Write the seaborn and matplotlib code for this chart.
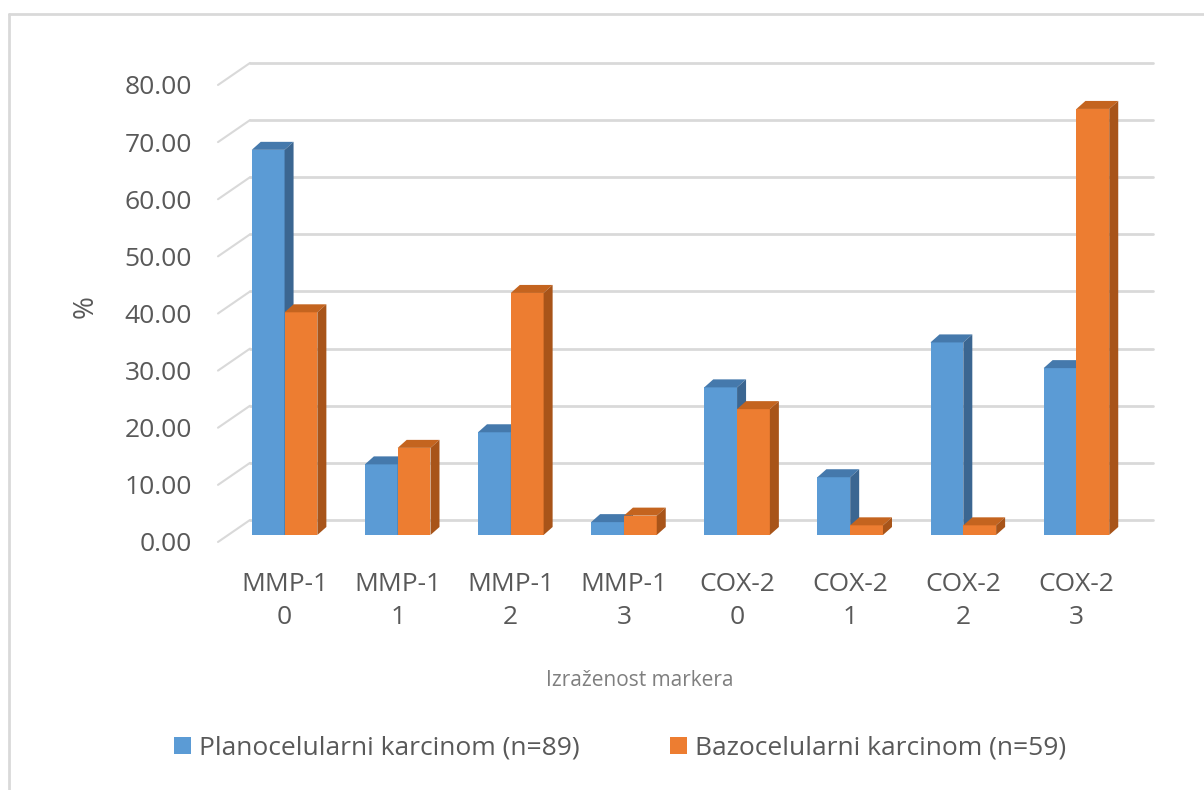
import matplotlib
matplotlib.use('Agg')
import matplotlib.pyplot as plt
import matplotlib.transforms as mtransforms
from matplotlib.patches import Polygon
import pandas as pd
import seaborn as sns

categories = ['MMP-1\n0', 'MMP-1\n1', 'MMP-1\n2', 'MMP-1\n3',
              'COX-2\n0', 'COX-2\n1', 'COX-2\n2', 'COX-2\n3']
series = ['Planocelularni karcinom (n=89)', 'Bazocelularni karcinom (n=59)']
plano = [67.42, 12.36, 17.98, 2.25, 25.84, 10.11, 33.71, 29.21]
bazo = [38.98, 15.25, 42.37, 3.39, 22.03, 1.69, 1.69, 74.58]
yticks = [0, 10, 20, 30, 40, 50, 60, 70, 80]

front_col = {series[0]: '#5B9BD5', series[1]: '#ED7D31'}
top_col = {series[0]: '#4579AC', series[1]: '#C4641F'}
side_col = {series[0]: '#3B6691', series[1]: '#A85419'}

df = pd.DataFrame({
    'marker': categories * 2,
    'grupa': [series[0]] * len(categories) + [series[1]] * len(categories),
    'pct': plano + bazo,
})

sns.set_theme(style='white')
plt.rcParams['font.family'] = ['Open Sans', 'DejaVu Sans']
txt = '#595959'

fig = plt.figure(figsize=(12.04, 7.90), dpi=100)
ax = fig.add_axes([228 / 1204, 0.3228, 905 / 1204, 0.5785])

sns.barplot(data=df, x='marker', y='pct', hue='grupa', order=categories,
            hue_order=series, palette=front_col, saturation=1, width=0.58,
            gap=0, ax=ax, linewidth=0)

ax.set_xlim(-0.5, 7.5)
ax.set_ylim(0, 80)

# pseudo 3D depth (px -> data units)
ppx = 905 / 8.0
ppy = 457 / 80.0
dx, dy = 9 / ppx, 8 / ppy

for k, (cont, name) in enumerate(zip(ax.containers, series)):
    for p in cont.patches:
        p.set_zorder(3 + k)
        x0 = p.get_x()
        x1 = x0 + p.get_width()
        h = p.get_height()
        top = Polygon([(x0, h), (x0 + dx, h + dy), (x1 + dx, h + dy), (x1, h)],
                      closed=True, fc=top_col[name], ec='none', zorder=3.1 + k,
                      clip_on=False)
        side = Polygon([(x1, 0), (x1 + dx, dy), (x1 + dx, h + dy), (x1, h)],
                       closed=True, fc=side_col[name], ec='none', zorder=3.1 + k,
                       clip_on=False)
        ax.add_patch(top)
        ax.add_patch(side)

# back wall gridlines + floor diagonals
blend = mtransforms.blended_transform_factory(ax.transAxes, ax.transData)
back_dy = 15 / ppy
front_dy = -7 / ppy
x_back0 = (250 - 228) / 905
x_back1 = (1153 - 228) / 905
x_front = (218 - 228) / 905
for t in yticks:
    ax.plot([x_back0, x_back1], [t + back_dy, t + back_dy], transform=blend,
            color='#D9D9D9', lw=2, zorder=1, clip_on=False)
    ax.plot([x_front, x_back0], [t + front_dy, t + back_dy], transform=blend,
            color='#D9D9D9', lw=1.5, zorder=1, clip_on=False)

for s in ax.spines.values():
    s.set_visible(False)
ax.grid(False)

ax.set_yticks(yticks)
ax.set_yticklabels(['%.2f' % t for t in yticks], fontsize=19, color=txt)
ax.tick_params(axis='y', length=0, pad=26)
shift = mtransforms.ScaledTranslation(0, -0.07, fig.dpi_scale_trans)
for lab in ax.get_yticklabels():
    lab.set_transform(lab.get_transform() + shift)

ax.set_xticks(range(len(categories)))
ax.set_xticklabels(categories, fontsize=19, color=txt, linespacing=1.4)
ax.tick_params(axis='x', length=0, pad=27)

ax.set_ylabel('%', fontsize=20, color=txt, labelpad=18)
ax.set_xlabel('Izraženost markera', fontsize=15, color='#7F7F7F', labelpad=16)
ax.xaxis.set_label_coords(0.455, -0.295)

handles, labels = ax.get_legend_handles_labels()
ax.get_legend().remove()
fig.legend(handles, labels, loc='center', bbox_to_anchor=(0.515, 0.053), ncol=2,
           frameon=False, fontsize=19, labelcolor=txt, handlelength=0.65,
           handleheight=0.65, handletextpad=0.3, columnspacing=3.4)

# chart area border (left and top edges visible)
fig.add_artist(plt.Line2D([9 / 1204, 9 / 1204], [0, 1 - 14 / 790],
                          transform=fig.transFigure, color='#D9D9D9', lw=2))
fig.add_artist(plt.Line2D([9 / 1204, 1], [1 - 14 / 790, 1 - 14 / 790],
                          transform=fig.transFigure, color='#D9D9D9', lw=2))

fig.savefig('out.png', dpi=100)
